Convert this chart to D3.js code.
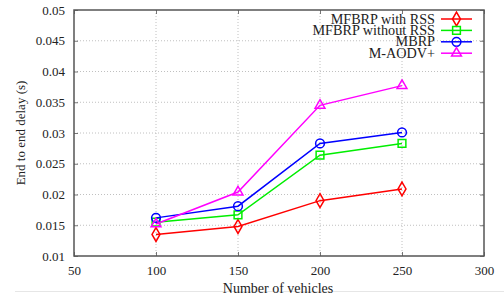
<!DOCTYPE html>
<html>
<head>
<meta charset="utf-8">
<script src="https://cdn.jsdelivr.net/npm/d3@7"></script>
<style>
  html, body { margin: 0; padding: 0; background: #fff; }
  svg { display: block; }
  text { font-family: "Liberation Serif", "DejaVu Serif", serif; fill: #222; }
</style>
</head>
<body>
<svg id="chart" width="504" height="297"></svg>
<script>
const categories = [100, 150, 200, 250];
const mfbrpWithRss = [0.0135, 0.0148, 0.0190, 0.0209];
const mfbrpWithoutRss = [0.0155, 0.0167, 0.0264, 0.0283];
const mbrp = [0.0162, 0.0181, 0.0283, 0.0301];
const maodv = [0.0152, 0.0204, 0.0345, 0.0377];
const xTicks = [50, 100, 150, 200, 250, 300];
const yTicks = [0.01, 0.015, 0.02, 0.025, 0.03, 0.035, 0.04, 0.045, 0.05];
const seriesNames = ["MFBRP with RSS", "MFBRP without RSS", "MBRP", "M-AODV+"];

const series = [
  { name: seriesNames[0], values: mfbrpWithRss, color: "#ff0000", symbol: d3.symbolDiamond, size: 55 },
  { name: seriesNames[1], values: mfbrpWithoutRss, color: "#00ee00", symbol: d3.symbolSquare, size: 60 },
  { name: seriesNames[2], values: mbrp, color: "#0000ff", symbol: d3.symbolCircle, size: 60 },
  { name: seriesNames[3], values: maodv, color: "#ff00ff", symbol: d3.symbolTriangle, size: 42 }
];

const svg = d3.select("#chart");
const L = 74, R = 484, T = 10, B = 256;
const x = d3.scaleLinear().domain([50, 300]).range([L, R]);
const y = d3.scaleLinear().domain([0.01, 0.05]).range([B, T]);

// faint artifact line at bottom
svg.append("line").attr("x1", 15).attr("x2", 504).attr("y1", 291.5).attr("y2", 291.5)
  .attr("stroke", "#e6e6e6").attr("stroke-width", 1);

// grid
const grid = svg.append("g");
grid.selectAll(".gx").data(xTicks.slice(1, -1)).join("line")
  .attr("x1", d => x(d)).attr("x2", d => x(d)).attr("y1", T).attr("y2", B)
  .attr("stroke", "#b0b0b0").attr("stroke-width", 0.8).attr("stroke-dasharray", "1,2");
grid.selectAll(".gy").data(yTicks.slice(1, -1)).join("line")
  .attr("x1", L).attr("x2", R).attr("y1", d => y(d)).attr("y2", d => y(d))
  .attr("stroke", "#b0b0b0").attr("stroke-width", 0.8).attr("stroke-dasharray", "1,2");

// axes
const xAxis = d3.axisBottom(x).tickValues(xTicks).tickSizeInner(-4).tickSizeOuter(0).tickPadding(10).tickFormat(d3.format("d"));
const yAxis = d3.axisLeft(y).tickValues(yTicks).tickSizeInner(-4).tickSizeOuter(0).tickPadding(9).tickFormat(d => String(+d.toFixed(3)));
const gx = svg.append("g").attr("transform", `translate(0,${B})`).call(xAxis);
const gy = svg.append("g").attr("transform", `translate(${L},0)`).call(yAxis);
const gx2 = svg.append("g").attr("transform", `translate(0,${T})`).call(d3.axisTop(x).tickValues(xTicks).tickSizeInner(-4).tickSizeOuter(0).tickFormat(""));
const gy2 = svg.append("g").attr("transform", `translate(${R},0)`).call(d3.axisRight(y).tickValues(yTicks).tickSizeInner(-4).tickSizeOuter(0).tickFormat(""));
[gx, gy, gx2, gy2].forEach(g => {
  g.select(".domain").remove();
  g.selectAll(".tick line").attr("stroke", "#555").attr("stroke-width", 0.8);
  g.selectAll("text").attr("font-size", 13).attr("font-family", "Liberation Serif, serif").attr("fill", "#222");
});

// frame
svg.append("rect").attr("x", L).attr("y", T).attr("width", R - L).attr("height", B - T)
  .attr("fill", "none").attr("stroke", "#555").attr("stroke-width", 1.5);

// lines
const line = d3.line().x((d, i) => x(categories[i])).y(d => y(d));
series.forEach(s => {
  svg.append("path").datum(s.values).attr("d", line)
    .attr("fill", "none").attr("stroke", s.color).attr("stroke-width", 1.5);
  svg.selectAll(null).data(s.values).join("path")
    .attr("d", d3.symbol().type(s.symbol).size(s.size))
    .attr("transform", (d, i) => `translate(${x(categories[i])},${y(d)})`)
    .attr("fill", "none").attr("stroke", s.color).attr("stroke-width", 1.5);
});

// legend
const legend = svg.append("g");
series.forEach((s, i) => {
  const ly = 19 + i * 11.4;
  legend.append("text").attr("x", 435).attr("y", ly + 4.5).attr("text-anchor", "end")
    .attr("font-size", 14.2).text(s.name);
  legend.append("line").attr("x1", 441).attr("x2", 472).attr("y1", ly).attr("y2", ly)
    .attr("stroke", s.color).attr("stroke-width", 1.5);
  legend.append("path").attr("d", d3.symbol().type(s.symbol).size(s.size))
    .attr("transform", `translate(456.5,${ly})`)
    .attr("fill", "none").attr("stroke", s.color).attr("stroke-width", 1.5);
});

// axis labels
svg.append("text").attr("x", 278).attr("y", 293).attr("text-anchor", "middle")
  .attr("font-size", 14).text("Number of vehicles");
svg.append("text").attr("transform", "translate(25,133) rotate(-90)").attr("text-anchor", "middle")
  .attr("font-size", 13).text("End to end delay (s)");
</script>
</body>
</html>
